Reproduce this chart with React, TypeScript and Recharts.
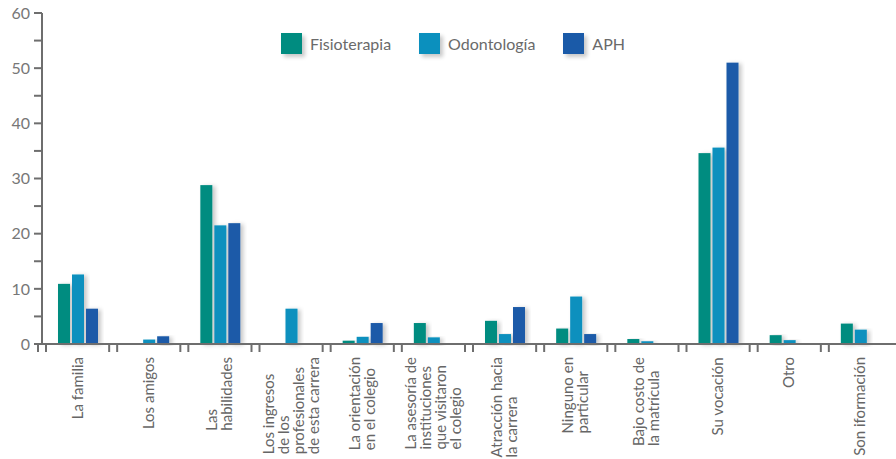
import { BarChart, Bar, XAxis, YAxis } from "recharts";

const categories = [
  "La familia",
  "Los amigos",
  "Las\nhabilidades",
  "Los ingresos\nde los\nprofesionales\nde esta carrera",
  "La orientación\nen el colegio",
  "La asesoría de\ninstituciones\nque visitaron\nel colegio",
  "Atracción hacia\nla carrera",
  "Ninguno en\nparticular",
  "Bajo costo de\nla matrícula",
  "Su vocación",
  "Otro",
  "Son iformación",
];
const fisioterapia = [10.9, 0, 28.8, 0, 0.6, 3.8, 4.2, 2.8, 0.9, 34.6, 1.6, 3.7];
const odontologia = [12.6, 0.8, 21.5, 6.4, 1.3, 1.2, 1.8, 8.6, 0.5, 35.6, 0.7, 2.6];
const aph = [6.4, 1.4, 21.9, 0, 3.8, 0, 6.7, 1.8, 0, 51, 0, 0];
const yTicks = [0, 5, 10, 15, 20, 25, 30, 35, 40, 45, 50, 55, 60];

const series = [
  { key: "fisioterapia", name: "Fisioterapia", color: "#008c80" },
  { key: "odontologia", name: "Odontología", color: "#0b90be" },
  { key: "aph", name: "APH", color: "#1a5aa8" },
];

const data = categories.map((name, i) => ({
  name,
  fisioterapia: fisioterapia[i],
  odontologia: odontologia[i],
  aph: aph[i],
}));

const AXIS = "#6e6e6e";
const FONT = "Lato, 'Open Sans', sans-serif";
const LABEL_SIZE = 15;

let ctx: CanvasRenderingContext2D | null = null;
function textWidth(s: string) {
  if (!ctx) ctx = document.createElement("canvas").getContext("2d");
  if (!ctx) return s.length * 7;
  ctx.font = `${LABEL_SIZE}px Lato`;
  return ctx.measureText(s).width;
}

// bar with a soft drop shadow, like the original
function ShadowBar(props: any) {
  const { x, y, width, height, fill } = props;
  if (!height || height <= 0) return null;
  return <rect x={x} y={y} width={width} height={height} fill={fill} filter="url(#barShadow)" />;
}

// rotated multi-line category label + the double tick marks at the band's left edge
function CategoryTick({ x, y, payload }: any) {
  const lines = String(payload.value).split("\n");
  const half = payload.offset ?? 35.6;
  const left = x - half;
  const lh = 15;
  const maxW = Math.max(...lines.map(textWidth));
  return (
    <g>
      <line x1={left - 4} x2={left - 4} y1={y} y2={y + 8} stroke={AXIS} strokeWidth={2} />
      <line x1={left + 4} x2={left + 4} y1={y} y2={y + 8} stroke={AXIS} strokeWidth={2} />
      <g transform={`translate(${x},${y + 13}) rotate(-90)`}>
        <text textAnchor="start" fill="#666" fontSize={LABEL_SIZE} fontFamily={FONT}>
          {lines.map((l, i) => (
            <tspan key={i} x={-maxW} y={(i - (lines.length - 1) / 2) * lh + 5}>
              {l}
            </tspan>
          ))}
        </text>
      </g>
    </g>
  );
}

export default function App() {
  return (
    <div style={{ position: "relative", width: 896, height: 459, fontFamily: FONT, background: "#fff" }}>
      <style>{`body{margin:0}`}</style>
      <svg width={0} height={0} style={{ position: "absolute" }}>
        <defs>
          <filter id="barShadow" x="-30%" y="-10%" width="180%" height="130%">
            <feDropShadow dx={3} dy={1} stdDeviation={2} floodColor="#000" floodOpacity={0.22} />
          </filter>
        </defs>
      </svg>

      <BarChart
        width={896}
        height={459}
        data={data}
        margin={{ top: 13, right: 0, left: 0, bottom: 0 }}
        barSize={12}
        barGap={2}
      >
        <XAxis
          dataKey="name"
          interval={0}
          height={115}
          tickSize={0}
          tickMargin={0}
          tickLine={false}
          axisLine={{ stroke: AXIS, strokeWidth: 2 }}
          tick={<CategoryTick />}
        />
        <YAxis
          width={42}
          domain={[0, 60]}
          ticks={yTicks}
          interval={0}
          tickSize={8}
          tickMargin={4}
          tickFormatter={(v) => (v % 10 === 0 ? String(v) : "")}
          axisLine={{ stroke: AXIS, strokeWidth: 2 }}
          tickLine={{ stroke: AXIS, strokeWidth: 2 }}
          tick={{ fill: "#777", fontSize: 16, fontFamily: FONT }}
        />
        {series.map((s) => (
          <Bar key={s.key} dataKey={s.key} name={s.name} fill={s.color} shape={<ShadowBar />} isAnimationActive={false} />
        ))}
      </BarChart>

      {/* legend */}
      <div style={{ position: "absolute", top: 33, left: 281, display: "flex", alignItems: "center" }}>
        {series.map((s) => (
          <div key={s.key} style={{ display: "flex", alignItems: "center", marginRight: 28 }}>
            <div
              style={{
                width: 21,
                height: 21,
                background: s.color,
                boxShadow: "3px 3px 4px rgba(0,0,0,0.22)",
              }}
            />
            <span style={{ marginLeft: 8, fontSize: 16, color: "#6a6a6a" }}>{s.name}</span>
          </div>
        ))}
      </div>
    </div>
  );
}
